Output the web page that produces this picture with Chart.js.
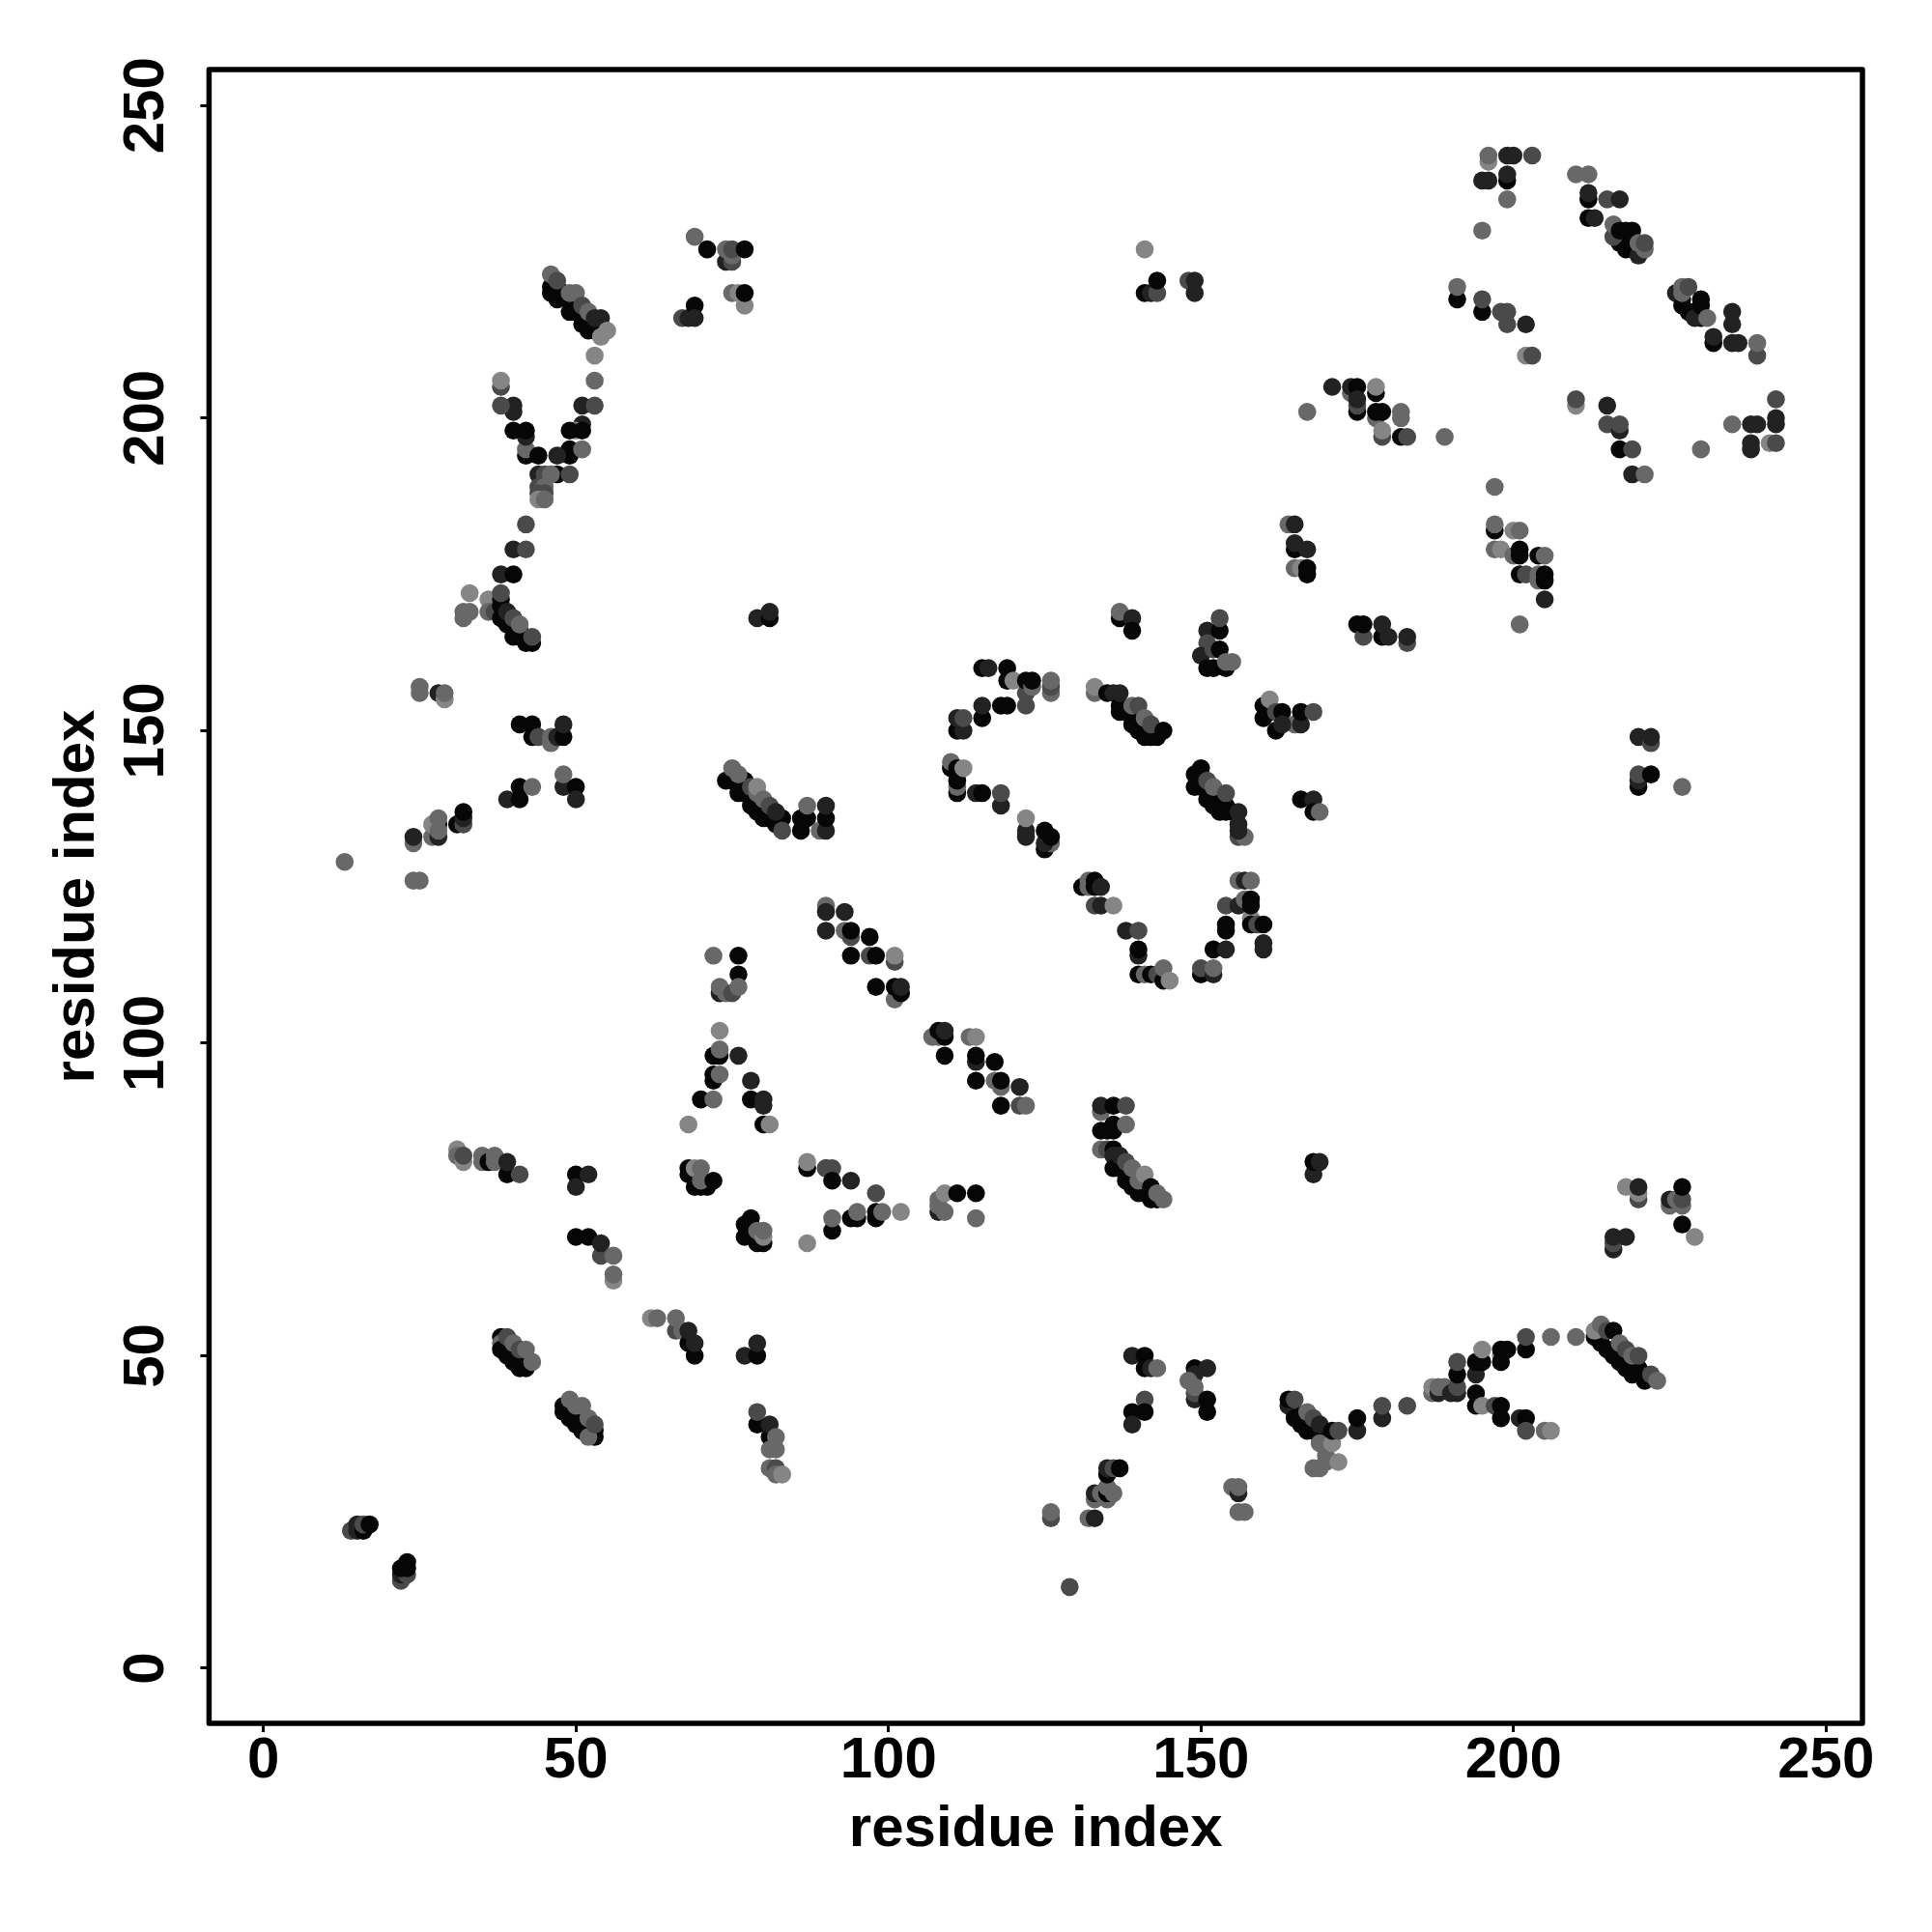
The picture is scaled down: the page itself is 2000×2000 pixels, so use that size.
<!DOCTYPE html>
<html lang="en">
<head>
  <meta charset="UTF-8" />
  <title>Residue contact map</title>
  <script src="https://cdn.jsdelivr.net/npm/chart.js"></script>
  <style>
    body { margin: 0; background: #ffffff; }
    canvas { display: block; }
  </style>
</head>
<body>
  <canvas id="contactChart" width="2000" height="2000"></canvas>

  <script>
    // each contact is [residue x, residue y, strength band 0 (strongest) .. 4 (weakest)]
    const upperLeft = [
      [46,221,0],[46,220,0],[47,219,0],[47,221,0],[48,220,0],[49,219,0],[49,217,0],[50,218,0],[50,217,0],[51,216,0],[51,215,0],[52,215,0],[52,214,0],[53,215,0],[53,214,0],
      [46,223,3],[47,222,2],[49,220,3],[50,220,3],[51,218,2],[52,217,3],[54,213,4],[53,216,1],[54,216,1],[55,214,4],
      [53,210,4],[53,206,3],[51,202,1],[53,202,2],[51,199,1],[50,198,4],[49,198,0],[51,198,0],[49,195,0],[49,194,0],[51,195,3],[47,194,1],
      [47,191,0],[49,191,2],[44,191,1],[45,191,2],[46,191,3],[44,189,2],[45,189,3],[44,188,2],[45,188,2],[44,187,4],[45,187,3],
      [42,194,0],[42,195,3],[44,194,0],[42,197,1],[42,198,0],[40,198,0],[40,201,1],[40,202,1],[38,202,2],[38,205,2],[38,206,4],
      [42,183,2],[40,179,1],[42,179,2],[38,175,1],[40,175,0],
      [32,168,3],[32,169,3],[33,169,3],[33,172,4],[36,171,4],[36,169,3],[37,169,2],
      [38,170,0],[39,168,0],[40,167,0],[41,166,0],
      [38,168,0],[39,167,0],[40,165,0],[41,165,0],[42,164,0],[43,164,0],[38,171,0],[39,169,1],[38,172,2],[40,168,2],[41,167,3],[43,165,2],
      [79,168,1],[81,168,0],[81,169,1]
    ];
    const upperCluster = [
      [69,229,3],[71,227,0],[74,225,1],[75,225,2],[74,227,3],[75,226,3],[75,227,2],[77,227,0],
      [75,220,3],[76,220,4],[77,218,4],[77,220,0],[67,216,2],[68,216,1],[69,218,0],[69,216,1]
    ];
    const midLeft = [
      [25,157,3],[25,156,3],[28,156,1],[29,155,4],[29,156,3],
      [41,151,0],[43,151,0],[43,149,0],[44,149,2],[46,148,3],[46,149,3],[47,149,1],[48,149,0],[48,151,1],
      [39,139,1],[41,139,0],[41,141,0],[43,141,3],[48,141,1],[48,143,3],[50,141,0],[50,139,1],
      [13,129,3],[24,132,3],[24,133,1],[24,126,3],[25,126,3],
      [27,133,3],[28,133,1],[28,135,0],[27,135,4],[28,134,3],[28,136,3],[31,135,0],[32,135,2],[32,136,1],[32,137,0]
    ];
    const midDiagonal = [
      [75,142,0],[77,140,0],[79,139,0],[81,136,0],
      [74,142,0],[76,140,0],[77,142,0],[78,138,0],[79,137,0],[80,136,0],[81,137,0],[82,135,0],[83,136,0],
      [75,144,3],[76,143,3],[78,141,2],[79,140,3],[79,141,4],[80,139,3],[81,138,2],[82,137,1],[83,134,2],
      [86,134,0],[86,136,0],[87,136,0],[87,138,3],[89,134,3],[90,134,1],[90,136,0],[90,138,1]
    ];
    const triangleLeft = [
      [72,114,3],[76,114,0],[76,111,0],[73,108,1],[73,109,3],[74,108,3],[75,108,2],[76,109,3],
      [73,102,4],[72,98,0],[73,98,0],[73,99,3],[76,98,1],[72,94,0],[72,95,0],[73,95,3],[78,94,1],
      [70,91,0],[72,91,3],[78,91,0],[80,90,1],[80,91,1],[68,87,4],[80,87,0],[81,87,4]
    ];
    const lowerLeft = [
      [31,83,4],[31,82,3],[32,81,4],[32,82,2],[35,82,3],[35,81,3],[36,81,0],[37,82,3],[37,81,3],[39,79,0],[39,81,1],[41,79,2],
      [50,79,0],[52,79,1],[50,77,1],
      [68,80,0],[68,79,0],[69,77,0],[70,77,0],[71,77,0],[69,80,4],[70,80,3],[70,78,3],[72,78,0],
      [87,80,0],[87,81,4],[90,80,2],[87,68,4],
      [78,72,0],[77,71,0],[77,69,0],[78,70,0],[79,68,0],[80,68,0],[79,70,3],[80,69,4],[80,70,3],
      [50,69,0],[52,69,0],[54,66,2],[54,68,1],[56,66,3],[56,62,4],[56,63,3],
      [39,52,0],[40,50,0],[41,49,0],
      [38,53,0],[38,52,3],[38,51,0],[39,50,0],[40,49,0],[41,48,0],[42,48,0],[39,53,2],[40,52,3],[41,51,2],[42,51,3],[43,49,3],
      [62,56,4],[63,56,3],[66,54,2],[66,56,3],[67,54,3],[68,52,0],[69,50,0],[69,52,1],[68,54,1],
      [77,50,1],[79,50,0],[79,52,1],
      [49,40,0],[50,40,0],[52,38,0],
      [48,42,0],[48,41,0],[50,39,0],[51,38,0],[53,37,0],[53,38,0],[52,37,3],[49,43,3],[50,42,3],[51,42,3],[52,40,3],[53,39,2],
      [79,39,0],[79,41,2],[81,37,0],[81,39,1],[82,37,3],[81,35,3],[82,35,3],[81,32,3],[82,32,2],[82,31,3],[83,31,4],
      [14,22,2],[15,23,1],[15,22,1],[16,22,0],[16,23,2],[17,23,0],
      [22,14,2],[22,15,1],[23,15,2],[22,16,0],[23,16,0],[23,17,0]
    ];
    const ringTop = [
      [115,160,0],[116,160,1],[119,160,0],[119,158,0],[120,158,4],[122,156,2],[122,158,0],[123,157,3],[123,158,0],[126,156,3],[126,157,2],[126,158,3],
      [122,154,2],[118,154,0],[119,154,0],[115,152,0],[115,154,1],[111,150,0],[112,150,1],[111,152,1],[112,152,2],
      [110,144,0],[110,145,3],[111,140,0],[111,141,3],[111,142,0],[111,144,0],[112,144,4],[114,140,1],[115,140,0],[118,138,1],[118,140,2],
      [122,133,1],[122,134,1],[122,136,4],[125,131,0],[126,132,3],[125,132,1],[125,134,0],[126,133,0],
      [138,153,0],[139,152,0],[140,150,0],
      [133,156,3],[133,157,4],[135,156,0],[136,156,1],[137,153,0],[137,154,0],[137,156,1],[139,151,0],[140,152,0],[141,149,0],[142,149,0],[143,149,0],
      [139,154,3],[140,154,2],[141,152,3],[142,151,2],[144,150,0],
      [160,152,0],[160,154,0],[161,153,0],[161,155,4],[162,150,0],[162,153,2],[163,153,0],[165,151,3],[163,151,1],[166,151,1],[166,153,0],[168,153,2],
      [150,141,0],[152,139,0],[154,138,0],
      [149,141,0],[149,143,0],[150,144,0],[150,142,0],[151,139,0],[152,138,0],[153,137,0],[154,137,0],[155,137,0],
      [151,142,2],[152,141,3],[154,140,2],[156,133,2],[157,133,3],[156,134,1],[156,135,1],[156,137,1],
      [166,139,0],[168,139,1],[168,137,0],[169,137,3]
    ];
    const ringBottom = [
      [131,125,0],[132,125,3],[132,126,3],[133,126,0],[133,125,0],[134,125,1],[133,122,2],[134,122,1],[136,122,4],
      [138,118,1],[140,118,2],[140,114,1],[140,115,0],[140,111,0],[141,111,3],[142,111,0],[143,111,2],[144,110,0],[144,112,3],[145,110,4],
      [150,111,0],[150,112,2],[152,111,1],[152,112,3],[152,115,0],[154,115,1],[154,118,0],[154,119,0],[154,122,2],[156,122,1],
      [156,126,3],[157,126,1],[158,126,3],[157,123,3],[158,120,4],[158,122,0],[158,123,0],[158,119,0],[159,119,2],[160,119,0],[160,115,1],[160,116,1]
    ];
    const centreDiagonal = [
      [90,122,3],[90,121,1],[90,118,1],[93,121,1],[93,118,3],[94,117,2],[94,118,0],[97,117,0],[94,114,0],[97,114,2],[98,114,0],[101,113,2],[101,114,4],
      [98,109,0],[101,107,3],[101,109,0],[102,108,0],[102,109,1],
      [107,101,3],[108,101,3],[108,102,0],[109,101,0],[109,102,1],[109,98,0],
      [113,101,3],[114,101,4],[114,97,1],[114,98,0],[117,97,0],[114,94,0],[117,94,3],[118,93,3],[118,94,0],[121,93,1],[118,90,0],[121,90,2],[122,90,3],
      [134,89,3],[134,90,1],[136,90,0],[138,90,2],[134,86,0],[135,86,0],[136,86,0],[136,87,0],[138,87,3],
      [137,80,0],[138,79,0],[139,77,0],[141,76,0],
      [134,83,3],[135,83,2],[136,83,0],[136,82,1],[136,80,0],[137,82,1],[138,78,0],[140,76,0],[142,75,0],[143,75,0],
      [138,81,2],[139,80,3],[140,78,3],[141,79,4],[142,77,0],[143,76,3],[144,75,3],
      [168,79,1],[168,81,0],[169,81,1],
      [90,80,2],[91,80,2],[91,78,0],[94,78,1],[98,76,2],[91,70,0],[91,72,3],[94,72,0],[95,72,0],[95,73,3],[98,72,0],[98,73,0],[99,73,3],[102,73,4],
      [108,73,1],[108,74,3],[108,75,3],[109,73,3],[109,76,4],[111,76,0],[114,76,0],[114,72,3]
    ];
    const lowerCentre = [
      [139,50,1],[141,50,0],[141,48,0],[142,48,1],[143,48,3],
      [141,43,2],[139,41,0],[141,41,0],[139,39,1],
      [149,48,0],[151,48,1],[149,47,1],[148,46,3],[149,43,1],[149,44,2],[149,45,3],[151,43,0],[151,41,0],
      [133,27,3],[133,28,1],[134,28,3],[135,27,3],[135,28,0],[136,28,3],[135,29,3],[135,31,0],[135,32,1],[136,32,2],[137,32,0],
      [126,24,2],[126,25,3],[132,24,3],[133,24,1],[129,13,2],
      [155,29,3],[156,28,1],[156,29,3],[156,25,3],[157,25,3],
      [165,41,0],[166,40,0],[167,39,0],[168,38,0],
      [164,42,1],[164,43,0],[165,43,2],[165,40,0],[166,39,0],[167,38,0],[169,37,0],[167,41,3],[168,40,2],[169,39,1],
      [168,32,3],[169,32,3],[170,34,3],[170,33,3],[169,36,3],[171,36,4],[172,33,4],[171,38,0],[172,38,2],
      [175,38,1],[175,40,0],[179,40,1],[179,42,2],[183,42,2]
    ];
    const lowerRight = [
      [187,44,3],[187,45,4],[188,44,1],[188,45,3],[189,45,3],[190,44,1],[191,44,1],[191,45,2],[191,47,0],[191,49,2],
      [194,47,1],[194,49,0],[195,49,0],[195,51,4],[198,50,4],[198,49,0],[198,51,0],[199,51,0],[202,51,0],[202,53,2],[206,53,3],[210,53,3],
      [194,44,0],[194,42,0],[195,42,4],[197,42,2],[198,42,0],[198,40,0],[201,40,1],[202,40,0],[202,38,2],[205,38,3],[206,38,4],
      [214,52,0],[216,50,0],[218,48,0],[214,53,0],[216,51,0],[218,49,0],
      [213,53,0],[215,51,0],[217,49,0],[219,47,0],[220,48,0],[221,46,0],[221,47,0],
      [213,54,4],[214,55,3],[215,54,2],[216,54,0],[217,52,3],[218,51,2],[219,50,3],[220,50,2],[222,47,2],[223,46,3],
      [218,77,4],[220,75,2],[220,76,4],[220,77,1],[225,74,3],[225,75,1],[226,75,3],[227,74,3],[227,75,2],[227,77,0],[227,71,0],[229,69,4],
      [216,67,1],[216,68,2],[216,69,1],[218,69,1]
    ];
    const upperMiddle = [
      [141,227,4],[141,220,0],[142,220,1],[143,220,2],[143,222,0],[148,222,2],[149,222,1],[149,220,1],
      [137,168,0],[137,169,3],[139,168,1],[139,166,0],
      [151,166,1],[151,164,2],[153,166,0],[153,168,2],[150,162,1],[152,163,2],[153,163,0],[151,160,0],[152,160,0],[154,160,0],[154,161,3],[155,161,3],
      [164,183,3],[165,183,1],[165,179,0],[165,180,1],[167,179,1],[165,176,3],[166,176,4],[167,175,0],[167,176,0],
      [175,167,0],[176,165,2],[176,167,0],[179,165,0],[179,167,1],[180,165,1],[183,164,2],[183,165,1],
      [167,201,3],[171,205,1],[174,204,3],[174,205,1],[175,205,0],[175,201,0],[175,202,2],[175,203,1],[178,204,0],[178,205,4],
      [178,200,3],[178,201,0],[179,201,0],[182,200,3],[182,201,3],[179,197,2],[179,198,4],[182,197,0],[183,197,2],[189,197,3]
    ];
    const upperRight = [
      [196,241,4],[196,242,3],[199,242,1],[200,242,1],[203,242,2],[195,238,1],[196,238,1],[199,238,0],[199,239,1],[199,235,3],[195,230,3],
      [210,239,3],[212,239,3],[212,235,0],[212,236,1],[215,235,2],[217,235,1],[212,232,0],[213,232,1],
      [217,228,0],[218,228,0],
      [216,229,2],[216,231,3],[217,230,0],[218,230,0],[219,230,0],[218,227,0],[219,228,0],[220,226,1],[220,228,3],[221,227,3],[221,228,2],
      [227,219,0],[229,217,0],
      [226,220,1],[227,218,0],[228,217,0],[227,220,3],[227,221,3],[228,221,2],[230,216,0],[229,216,1],[230,218,0],[230,219,0],[231,216,3],
      [235,215,1],[235,217,1],[232,212,0],[232,213,1],[235,212,1],[236,212,1],[239,210,2],[239,212,3],
      [191,219,0],[191,221,3],[195,217,0],[195,219,2],[198,217,2],[199,215,2],[199,217,2],[202,215,1],[202,210,4],[203,210,2],
      [210,202,4],[210,203,2],[215,202,1],[215,199,2],[217,198,1],[217,199,2],[217,195,0],[219,195,2],[219,191,1],[221,191,3],[197,189,3],
      [197,182,0],[197,183,3],[197,179,3],[198,179,4],[200,182,4],[201,182,3],[200,178,3],[201,178,0],[201,179,0],[204,178,0],[205,178,3],
      [201,175,0],[202,175,2],[204,174,3],[204,175,3],[205,174,0],[205,175,0],[205,171,1],[201,167,3],
      [230,195,3],[235,199,3],[238,199,1],[239,199,1],[238,195,1],[238,196,1],[241,196,4],[242,196,2],[242,199,1],[242,200,1],[242,203,2],
      [220,141,0],[220,142,1],[220,143,2],[222,143,0],[220,149,1],[222,148,2],[222,149,1],[227,141,3]
    ];
    const tickStep = 50;
    const axisLabel = 'residue index';

    const contacts = [].concat(upperLeft, upperCluster, midLeft, midDiagonal, triangleLeft, lowerLeft,
      ringTop, ringBottom, centreDiagonal, lowerCentre, lowerRight, upperMiddle, upperRight);
    const bandGreys = ['#060606', '#222222', '#4a4a4a', '#686868', '#858585'];

    const fontFamily = "'Liberation Sans', Arial, sans-serif";

    // draws the closed box round the plot
    const frame = {
      id: 'frame',
      afterDraw(chart) {
        const { ctx, chartArea: a } = chart;
        ctx.save();
        ctx.strokeStyle = '#000000';
        ctx.lineWidth = 5.5;
        ctx.lineJoin = 'round';
        ctx.strokeRect(a.left, a.top, a.right - a.left, a.bottom - a.top);
        ctx.restore();
      }
    };

    function axisGrid() {
      return { display: true, drawOnChartArea: false, drawTicks: true, tickLength: 9, tickWidth: 3, tickColor: '#000000' };
    }

    new Chart(document.getElementById('contactChart'), {
      type: 'scatter',
      data: {
        datasets: [{
          data: contacts.map(c => ({ x: c[0], y: c[1] })),
          backgroundColor: contacts.map(c => bandGreys[c[2]]),
          pointRadius: 9.3,
          pointBorderWidth: 0
        }]
      },
      plugins: [frame],
      options: {
        responsive: false,
        animation: false,
        layout: { padding: { top: 72, right: 72 } },
        plugins: { legend: { display: false }, tooltip: { enabled: false } },
        scales: {
          x: {
            type: 'linear',
            min: -8.7,
            max: 255.84,
            afterFit(scale) { scale.height = 216; },
            grid: axisGrid(),
            border: { display: false },
            ticks: {
              stepSize: tickStep,
              includeBounds: false,
              autoSkip: false,
              maxRotation: 0,
              padding: -6,
              color: '#000000',
              font: { family: fontFamily, size: 60, weight: 'bold' }
            },
            title: {
              display: true,
              text: axisLabel,
              color: '#000000',
              padding: { top: 0, bottom: 70 },
              font: { family: fontFamily, size: 60, weight: 'bold' }
            }
          },
          y: {
            type: 'linear',
            min: -8.81,
            max: 255.76,
            afterFit(scale) { scale.width = 216.4; },
            grid: axisGrid(),
            border: { display: false },
            ticks: {
              stepSize: tickStep,
              includeBounds: false,
              autoSkip: false,
              minRotation: 90,
              maxRotation: 90,
              crossAlign: 'center',
              padding: 5,
              color: '#000000',
              font: { family: fontFamily, size: 60, weight: 'bold' }
            },
            title: {
              display: true,
              text: axisLabel,
              color: '#000000',
              padding: { top: 44, bottom: 0 },
              font: { family: fontFamily, size: 60, weight: 'bold' }
            }
          }
        }
      }
    });
  </script>
</body>
</html>
